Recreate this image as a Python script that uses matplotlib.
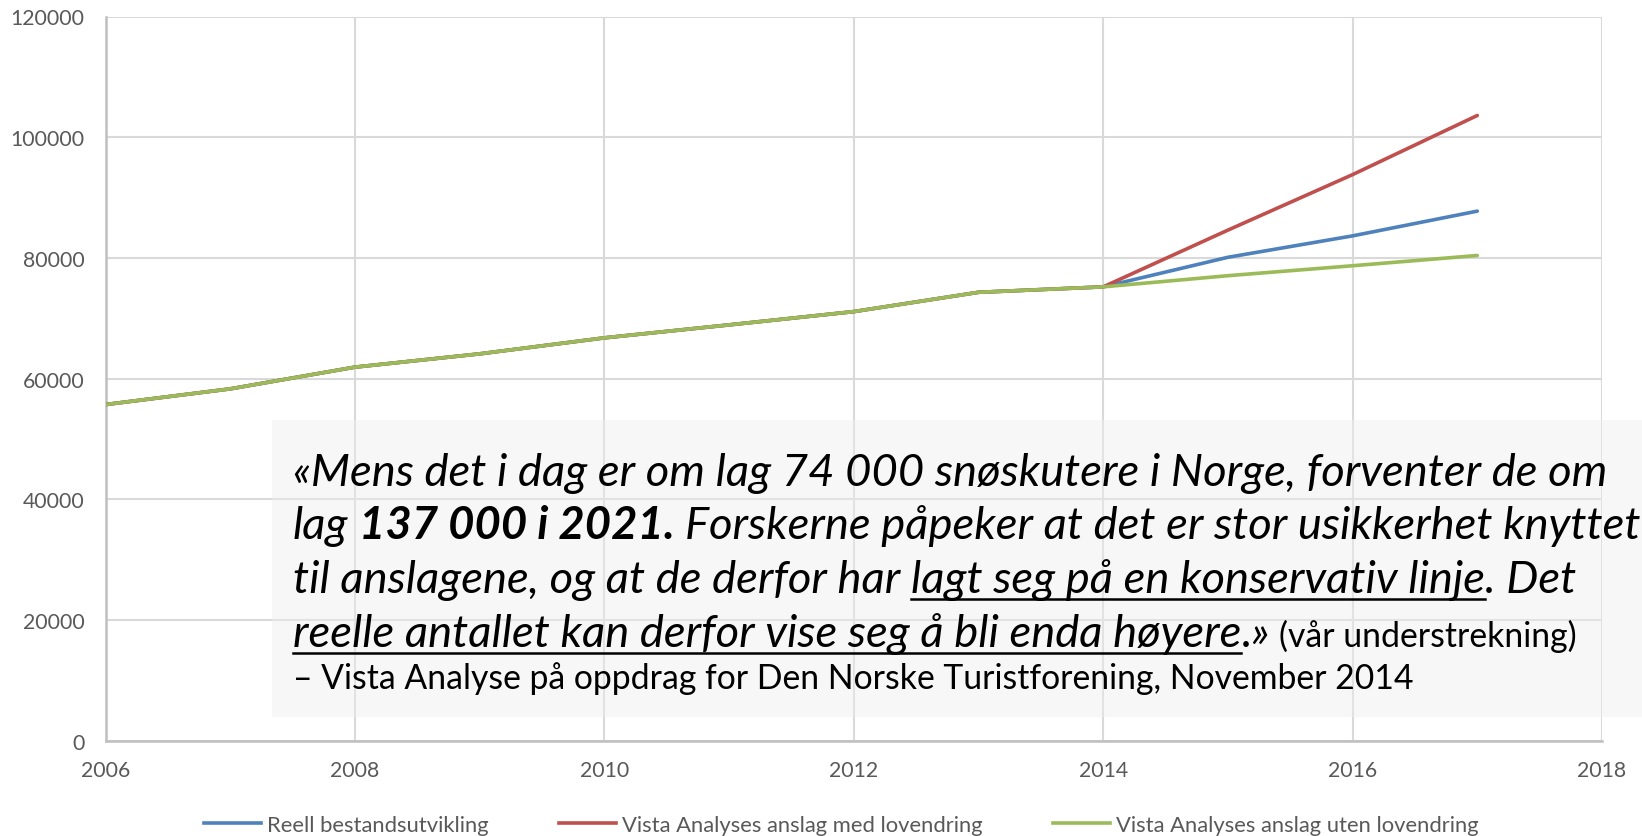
import matplotlib
matplotlib.use("Agg")
import matplotlib.pyplot as plt
from matplotlib.lines import Line2D
from matplotlib.patches import Rectangle

# ---------------- data ----------------
years = [2006, 2007, 2008, 2009, 2010, 2011, 2012, 2013, 2014, 2015, 2016, 2017]
reell = [55700, 58300, 61900, 64100, 66750, 68900, 71100, 74300, 75200, 80100, 83650, 87750]
med_lovendring = [55700, 58300, 61900, 64100, 66750, 68900, 71100, 74300, 75200, 84600, 93800, 103600]
uten_lovendring = [55700, 58300, 61900, 64100, 66750, 68900, 71100, 74300, 75200, 77050, 78700, 80400]
series_labels = ["Reell bestandsutvikling",
                 "Vista Analyses anslag med lovendring",
                 "Vista Analyses anslag uten lovendring"]
series_colors = ["#4F81BD", "#C0504D", "#9BBB59"]
x_ticks = [2006, 2008, 2010, 2012, 2014, 2016, 2018]
y_ticks = [0, 20000, 40000, 60000, 80000, 100000, 120000]

# quote runs: (text, style, underline); None = space
quote_lines = [
    [("«Mens det i dag er om lag 74 000 snøskutere i Norge, forventer de om", "it", False)],
    [("lag", "it", False), None, ("137 000 i 2021.", "bi", False), None,
     ("Forskerne påpeker at det er stor usikkerhet knyttet", "it", False)],
    [("til anslagene, og at de derfor har", "it", False), None,
     ("lagt seg på en konservativ linje", "it", True), (". Det", "it", False)],
    [("reelle antallet kan derfor vise seg å bli enda høyere", "it", True), (".»", "it", False),
     None, ("(vår understrekning)", "sm", False)],
    [("– Vista Analyse på oppdrag for Den Norske Turistforening, November 2014", "sm", False)],
]

FAMILY = ["Lato", "DejaVu Sans"]
plt.rcParams["font.family"] = FAMILY

W, H = 1642, 837
fig = plt.figure(figsize=(W / 100, H / 100), dpi=100)
renderer = fig.canvas.get_renderer()

ax_l, ax_r, ax_t, ax_b = 105.5, 1602.0, 17.5, 741.7
ax = fig.add_axes([ax_l / W, 1 - ax_b / H, (ax_r - ax_l) / W, (ax_b - ax_t) / H])


def text_width(s, **kw):
    t = fig.text(0, 0, s, **kw)
    w = t.get_window_extent(renderer).width
    t.remove()
    return w


def fit_size(s, target, base=20, **kw):
    return base * target / text_width(s, fontsize=base, **kw)


# ---------------- lines ----------------
for vals, lab, col in zip([reell, med_lovendring, uten_lovendring], series_labels, series_colors):
    ax.plot(years, vals, color=col, lw=2.6, label=lab, solid_capstyle="round",
            solid_joinstyle="round", zorder=3)

ax.set_xlim(2006, 2018)
ax.set_ylim(0, 120000)
ax.set_xticks(x_ticks)
ax.set_yticks(y_ticks)
ax.grid(True, color="#d9d9d9", lw=1.5, zorder=0)
ax.set_axisbelow(True)
for s in ["top", "right"]:
    ax.spines[s].set_visible(False)
for s in ["left", "bottom"]:
    ax.spines[s].set_color("#bfbfbf")
    ax.spines[s].set_linewidth(1.8)

tick_fs = fit_size("120000", 74)
ax.tick_params(axis="both", length=0, labelcolor="#595959", labelsize=tick_fs)
ax.tick_params(axis="y", pad=15)
ax.tick_params(axis="x", pad=14)
for lbl in ax.get_xticklabels() + ax.get_yticklabels():
    lbl.set_fontfamily(FAMILY)

# ---------------- quote box ----------------
box_l, box_t, box_b = 272, 421, 718
fig.add_artist(Rectangle((box_l / W, 1 - box_b / H), (W - box_l) / W, (box_b - box_t) / H,
                         transform=fig.transFigure, facecolor="#eeeeee", alpha=0.45,
                         edgecolor="none", zorder=1))


def make_styles(big, small):
    return {
        "it": dict(fontsize=big, style="italic", weight="normal"),
        "bi": dict(fontsize=big, style="italic", weight="bold"),
        "sm": dict(fontsize=small, style="normal", weight="normal"),
    }


def line_width(runs, st):
    sb = text_width("a a", **st["it"]) - text_width("aa", **st["it"])
    ss = text_width("a a", **st["sm"]) - text_width("aa", **st["sm"])
    w = 0
    for i, run in enumerate(runs):
        if run is None:
            w += ss if runs[i + 1][1] == "sm" else sb
        else:
            w += text_width(run[0], **st[run[1]])
    return w


base_st = make_styles(20, 20)
line1_probe = [("«Mens det i dag er om lag 74 000 snøskutere i Norge, forventer de o", "it", False)]
fits = [
    20 * 1335 / line_width(line1_probe, base_st),
    20 * 1346 / line_width(quote_lines[1], base_st),
    20 * 1336 / line_width(quote_lines[2], base_st),
]
big_fs = min(fits)
small_fs = fit_size("– Vista Analyse på oppdrag for Den Norske Turistforening, November 2014", 1123)
styles = make_styles(big_fs, small_fs)

space_big = text_width("a a", **styles["it"]) - text_width("aa", **styles["it"])
space_small = text_width("a a", **styles["sm"]) - text_width("aa", **styles["sm"])

baselines = [486, 539, 593, 647, 689]
x0 = 293
for runs, base in zip(quote_lines, baselines):
    x = x0
    for i, run in enumerate(runs):
        if run is None:
            nxt = runs[i + 1]
            x += space_small if nxt[1] == "sm" else space_big
            continue
        txt, st, und = run
        t = fig.text(x / W, 1 - base / H, txt, ha="left", va="baseline", color="black",
                     zorder=5, **styles[st])
        w = t.get_window_extent(renderer).width
        if und:
            uy = base + 0.16 * styles[st]["fontsize"] / 0.72
            fig.add_artist(Line2D([x / W, (x + w) / W], [1 - uy / H, 1 - uy / H],
                                  transform=fig.transFigure, color="black", lw=1.8, zorder=5))
        x += w

# ---------------- legend ----------------
leg_fs = fit_size("Reell bestandsutvikling", 223)
handles = [Line2D([], [], color=c, lw=2.6) for c in series_colors]
leg = fig.legend(handles, series_labels, loc="center", bbox_to_anchor=(841 / W, 1 - 826 / H),
                 ncol=3, frameon=False, fontsize=leg_fs, handlelength=2.6,
                 handletextpad=0.25, columnspacing=3.2, borderpad=0)
for t in leg.get_texts():
    t.set_color("#595959")

fig.savefig("out.png", dpi=100)
